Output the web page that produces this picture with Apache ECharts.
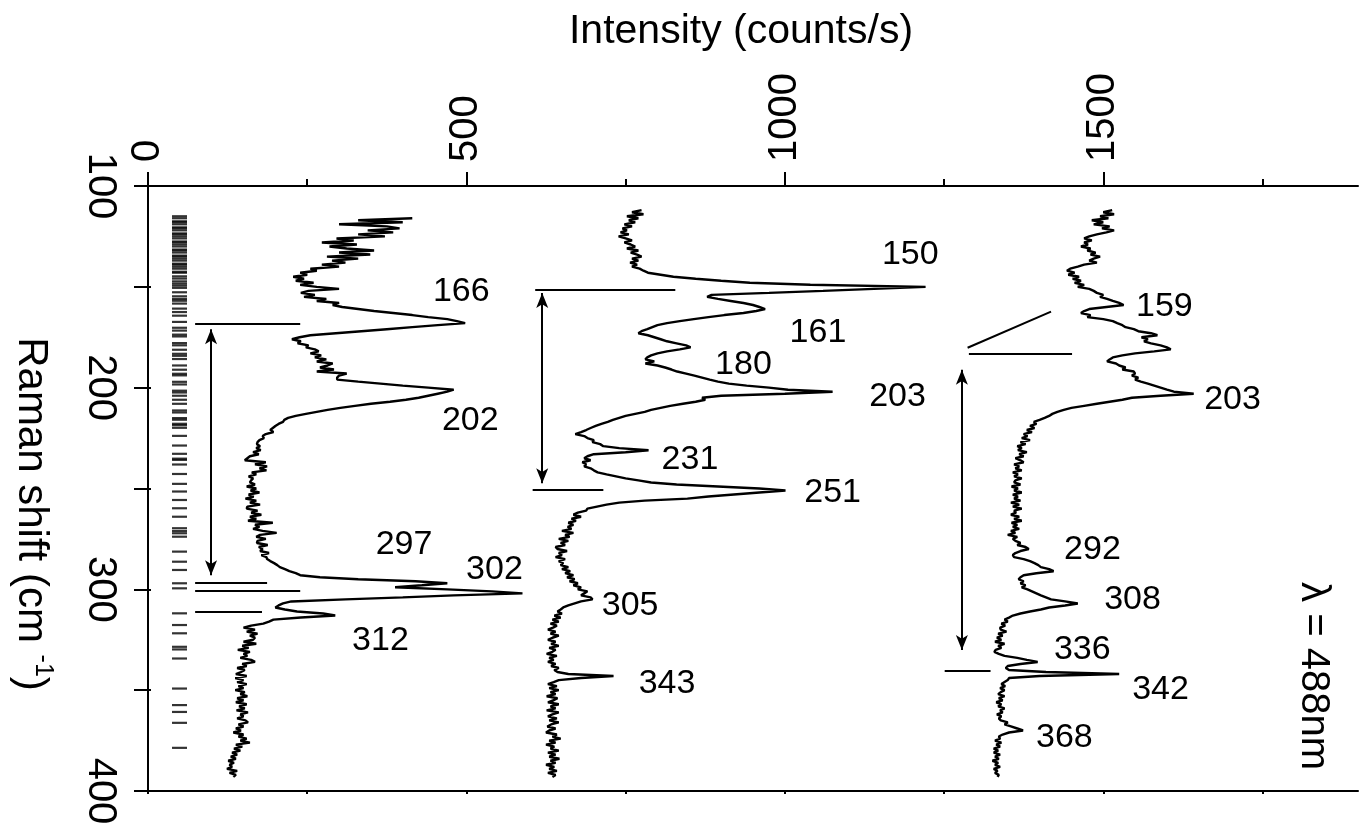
<!DOCTYPE html>
<html><head><meta charset="utf-8">
<script src="https://cdn.jsdelivr.net/npm/echarts@6/dist/echarts.min.js"></script>
<style>html,body{margin:0;padding:0;background:#fff}#c{width:1362px;height:831px}</style>
</head><body><div id="c"></div>
<script>
// Raman shift sampling (cm-1)
const shift = [
112,113,114,115,116,117,118,119,120,121,
122,123,124,125,126,127,128,129,130,131,
132,133,134,135,136,137,138,139,140,141,
142,143,144,145,146,147,148,149,150,151,
152,153,154,155,156,157,158,159,160,161,
162,163,164,165,166,167,168,169,170,171,
172,173,174,175,176,177,178,179,180,181,
182,183,184,185,186,187,188,189,190,191,
192,193,194,195,196,197,198,199,200,201,
202,203,204,205,206,207,208,209,210,211,
212,213,214,215,216,217,218,219,220,221,
222,223,224,225,226,227,228,229,230,231,
232,233,234,235,236,237,238,239,240,241,
242,243,244,245,246,247,248,249,250,251,
252,253,254,255,256,257,258,259,260,261,
262,263,264,265,266,267,268,269,270,271,
272,273,274,275,276,277,278,279,280,281,
282,283,284,285,286,287,288,289,290,291,
292,293,294,295,296,297,298,299,300,301,
302,303,304,305,306,307,308,309,310,311,
312,313,314,315,316,317,318,319,320,321,
322,323,324,325,326,327,328,329,330,331,
332,333,334,335,336,337,338,339,340,341,
342,343,344,345,346,347,348,349,350,351,
352,353,354,355,356,357,358,359,360,361,
362,363,364,365,366,367,368,369,370,371,
372,373,374,375,376,377,378,379,380,381,
382,383,384,385,386,387,388,389,390,391,
392,393];

// Intensity (counts/s), left spectrum
const trace1 = [
null,null,null,null,415,330,400,300,375,395,
345,385,330,372,296,323,273,328,285,312,
355,300,349,281,330,289,310,273,300,255,
265,239,250,228,245,232,260,239,265,300,
252,240,262,245,280,265,300,290,305,330,
355,385,415,440,470,485,498,455,415,375,
335,295,255,238,226,240,235,252,248,262,
268,255,272,262,280,265,290,282,270,292,
265,312,300,297,297,330,365,400,440,480,
470,455,440,425,405,380,350,325,302,282,
265,248,232,220,214,212,205,200,196,192,
197,185,180,182,175,172,171,176,170,177,
165,174,160,156,152,185,168,187,175,186,
163,170,158,165,162,160,168,155,170,161,
175,158,166,153,170,160,176,156,155,172,
162,178,160,170,157,196,168,175,165,180,
202,176,170,185,172,171,188,174,180,176,
190,178,186,187,192,198,203,207,215,222,
232,239,270,330,420,470,430,388,470,540,
588,480,400,310,225,212,205,200,215,234,
275,294,240,197,190,181,162,150,168,155,
172,160,168,165,150,170,148,158,141,160,
150,156,145,162,168,148,155,140,152,146,
138,155,137,150,140,155,142,150,137,152,
145,156,140,150,138,155,143,152,139,157,
145,150,140,153,157,142,150,138,146,134,
150,142,155,145,160,138,148,135,145,132,
140,130,138,126,135,128,132,124,140,128,
138,134];

// middle spectrum
const trace2 = [
775,760,778,752,770,755,765,748,760,745,
752,742,755,739,750,760,748,758,765,752,
770,758,768,775,760,770,757,768,760,772,
778,785,805,825,860,900,945,1040,1221,1140,
1060,975,885,878,895,915,935,950,960,969,
955,935,905,880,857,835,815,800,792,784,
775,770,785,795,805,815,830,845,852,835,
815,800,790,784,781,795,781,800,812,822,
831,845,858,870,882,895,912,940,975,1005,
1075,1000,900,870,875,860,840,820,805,790,
780,765,750,740,730,722,712,703,695,688,
680,671,685,690,700,698,710,715,740,786,
750,700,690,685,695,682,688,685,695,700,
706,720,735,750,770,790,830,895,960,1001,
960,920,880,847,780,740,720,705,690,688,
675,668,680,665,672,660,668,659,665,650,
668,655,662,645,660,648,655,640,643,658,
645,650,640,655,645,652,648,660,650,663,
655,668,658,670,662,675,668,680,675,690,
685,680,695,698,680,670,660,652,648,643,
650,638,648,635,645,632,642,636,628,640,
632,645,635,628,640,633,645,630,640,635,
626,642,630,637,628,640,633,645,638,643,
660,731,680,645,637,628,642,630,645,632,
640,626,643,637,628,645,632,640,626,645,
635,628,642,630,645,633,627,640,630,625,
642,635,648,630,640,625,638,632,645,628,
640,630,646,632,640,625,638,630,642,628,
640,635];

// right spectrum
const trace3 = [
1514,1500,1517,1495,1508,1482,1500,1485,1510,1498,
1517,1505,1490,1478,1470,1482,1470,1476,1465,1480,
1475,1488,1480,1495,1485,1478,1490,1470,1460,1448,
1443,1455,1445,1462,1452,1465,1455,1470,1460,1478,
1485,1490,1500,1495,1506,1515,1525,1532,1505,1478,
1470,1465,1480,1475,1500,1515,1522,1530,1535,1548,
1555,1575,1585,1560,1570,1564,1575,1590,1600,1606,
1580,1550,1530,1515,1510,1506,1520,1525,1535,1530,
1548,1550,1545,1555,1550,1559,1570,1580,1590,1600,
1611,1642,1590,1545,1530,1510,1490,1470,1450,1438,
1428,1420,1415,1408,1400,1391,1395,1385,1392,1380,
1388,1375,1381,1372,1385,1370,1378,1365,1372,1366,
1380,1368,1375,1362,1370,1375,1360,1368,1362,1372,
1358,1366,1360,1372,1362,1360,1370,1356,1366,1360,
1372,1358,1366,1360,1370,1355,1368,1358,1372,1360,
1363,1355,1368,1360,1372,1356,1365,1358,1368,1355,
1362,1350,1365,1358,1362,1370,1365,1378,1383,1370,
1362,1358,1360,1375,1385,1392,1398,1402,1415,1422,
1395,1375,1370,1367,1375,1370,1378,1372,1381,1388,
1395,1402,1410,1418,1440,1460,1440,1415,1402,1385,
1370,1358,1352,1345,1350,1340,1346,1338,1339,1348,
1335,1342,1333,1340,1330,1345,1335,1340,1331,1329,
1336,1345,1365,1380,1397,1370,1350,1347,1352,1410,
1525,1400,1352,1350,1345,1340,1346,1338,1345,1339,
1335,1345,1336,1342,1332,1340,1335,1345,1338,1342,
1333,1340,1336,1339,1350,1345,1355,1365,1374,1352,
1342,1336,1338,1330,1340,1332,1338,1328,1335,1328,
1338,1330,1336,1326,1335,1330,1338,1328,1334,1330,
1336,1334];

// calculated mode frequencies (cm-1), drawn as the bar code on the left
const calcModes = [
115,116,117.5,118,119,120.5,121,122,123.5,124,125,126,127.5,128,129,130,131.5,132,133,134.5,
135,136,137,138.5,139,140,141,142.5,143,144.8,145.9,147.3,148.4,149.4,150.5,152.7,154.7,156,
156.9,158.3,160.8,162.5,164.3,167.4,170.3,171.7,173.7,174.6,177.9,179,181.2,183.2,184.2,185.8,
189,191.1,193.1,193.9,197.1,198.4,201.5,202.4,204,206,208,211.3,212.3,215.1,215.9,217.9,218.6,
219.9,223.9,228.7,232.8,235.2,235.8,238.1,242.8,247.7,251.5,255.7,259.8,264,269.7,271.1,272.2,
273.9,281.3,286.3,290.4,297,299.5,311.9,317.7,321.8,328.5,329.8,334.3,349.2,357.4,360.8,366.2,378.6];
const calcModeIntensity = 49.5;

// peak labels: [intensity, shift, text]
const peakLabels = [
[492,152.4,'166'],[506,216.5,'202'],[402,278,'297'],[544,290.4,'302'],[365,325.2,'312'],
[1197,134,'150'],[1052,172.7,'161'],[935,188.6,'180'],[1177,204.5,'203'],[851,235.8,'231'],
[1075,252.2,'251'],[757,308,'305'],[815,347,'343'],
[1596,159.8,'159'],[1703,206,'203'],[1483,280.5,'292'],[1546,305.3,'308'],[1467,330.1,'336'],
[1590,349.5,'342'],[1439,373.3,'368']];
const lambdaLabel = [1830, 343, 'λ = 488nm'];

// assignment lines [I1,S1,I2,S2]
const refLines = [
[74,168.3,239,168.3],[74,296.9,187,296.9],[74,300.8,239,300.8],[74,311.3,179,311.3],
[608,151.4,828,151.4],[604,250.7,715,250.7],
[1287,180.2,1418,162.3],[1289,183.2,1451,183.2],[1251,340.6,1323,340.6]];
// double arrows [I1,S1,I2,S2]
const arrows = [[99,171,99,293],[619,153,619,247.4],[1278,191.1,1278,330.1]];

const xMajorTicks = [0,500,1000,1500];
const xMinorTicks = [250,750,1250,1750];
const xAllTicks = [0,250,500,750,1000,1250,1500,1750];
const yLabels = [100,200,300,400];

const FONT = 'Liberation Sans';
function pairs(tr){const o=[];for(let i=0;i<shift.length;i++){if(tr[i]!=null)o.push([tr[i],shift[i]]);}return o;}
function spec(tr){return {type:'line',data:pairs(tr),symbol:'none',showSymbol:false,silent:true,
  lineStyle:{color:'#000',width:2.4},itemStyle:{color:'#000'},z:3};}

const mlData = refLines.map(l=>[{coord:[l[0],l[1]],symbol:'none'},{coord:[l[2],l[3]],symbol:'none'}])
  .concat(arrows.map(a=>[{coord:[a[0],a[1]],symbol:'arrow'},{coord:[a[2],a[3]],symbol:'arrow'}]));

const labelStyle = {show:true,position:'inside',color:'#000',opacity:1,textBorderWidth:0,fontFamily:FONT};

const chart = echarts.init(document.getElementById('c'));
chart.setOption({
  animation:false,
  textStyle:{fontFamily:FONT,color:'#000'},
  grid:{left:148,top:186,right:4,bottom:40},
  xAxis:[
    {type:'value',position:'top',min:0,max:1900,interval:500,
     axisLine:{lineStyle:{color:'#000',width:2}},
     axisTick:{length:14,lineStyle:{color:'#000',width:2},customValues:xMajorTicks},
     axisLabel:{rotate:-90,fontSize:40,margin:24,color:'#000',fontFamily:FONT,customValues:xMajorTicks,
       formatter:v=>(v%500===0&&v<=1500)?String(v):''},
     splitLine:{show:false}},
    {type:'value',position:'top',min:0,max:1900,interval:250,
     axisLine:{show:false},
     axisTick:{length:7,lineStyle:{color:'#000',width:2},customValues:xMinorTicks},
     axisLabel:{show:false},splitLine:{show:false}},
    {type:'value',position:'bottom',min:0,max:1900,interval:250,
     axisLine:{lineStyle:{color:'#000',width:2}},
     axisTick:{length:3,lineStyle:{color:'#000',width:2},customValues:xAllTicks},
     axisLabel:{show:false},splitLine:{show:false}}
  ],
  yAxis:[
    {type:'value',position:'left',inverse:true,min:100,max:400,interval:50,
     axisLine:{lineStyle:{color:'#000',width:2}},
     axisTick:{length:14,lineStyle:{color:'#000',width:2}},
     axisLabel:{rotate:-90,fontSize:40,margin:28,color:'#000',fontFamily:FONT,customValues:yLabels,
       formatter:v=>(v%100===0)?String(v):''},
     splitLine:{show:false}},
    {type:'value',position:'right',inverse:true,min:100,max:400,interval:50,
     axisLine:{lineStyle:{color:'#000',width:2}},
     axisTick:{length:3,lineStyle:{color:'#000',width:2}},
     axisLabel:{show:false},splitLine:{show:false}}
  ],
  graphic:[
    {type:'text',x:741,y:32,silent:true,
     style:{text:'Intensity (counts/s)',fontSize:41,fontFamily:FONT,fill:'#000',align:'center',verticalAlign:'middle'}},
    {type:'text',x:31,y:514,rotation:-Math.PI/2,silent:true,
     style:{text:'{a|Raman shift (cm }{b|-1}{a|)}',align:'center',verticalAlign:'middle',fill:'#000',
       rich:{a:{fontSize:42,fontFamily:FONT,fill:'#000',lineHeight:48},
             b:{fontSize:25,fontFamily:FONT,fill:'#000',verticalAlign:'top',lineHeight:48}}}}
  ],
  series:[
    spec(trace1),spec(trace2),spec(trace3),
    {type:'scatter',silent:true,symbol:'rect',symbolSize:[15,2.2],itemStyle:{color:'#000'},
     data:calcModes.map(s=>[calcModeIntensity,s]),z:2,
     markLine:{silent:true,symbol:['none','none'],symbolSize:[9,15],animation:false,
       lineStyle:{color:'#000',width:2,type:'solid'},label:{show:false},emphasis:{disabled:true},
       data:mlData}},
    {type:'scatter',silent:true,symbolSize:1,itemStyle:{color:'#fff',opacity:0},
     data:peakLabels,z:5,
     label:Object.assign({},labelStyle,{formatter:p=>p.data[2],fontSize:34})},
    {type:'scatter',silent:true,symbolSize:1,itemStyle:{color:'#fff',opacity:0},
     data:[lambdaLabel],z:5,
     label:Object.assign({},labelStyle,{rotate:-90,formatter:p=>p.data[2],fontSize:40})}
  ]
});
</script></body></html>
